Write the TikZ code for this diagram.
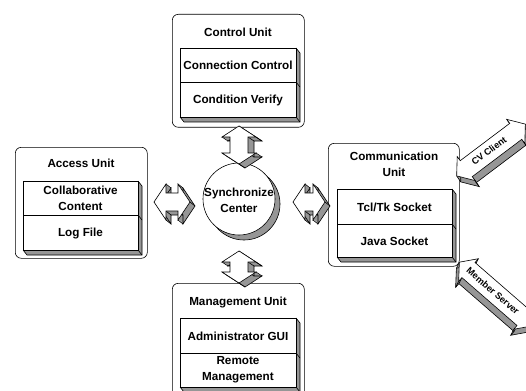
\documentclass[tikz,border=0pt]{standalone}
\usepackage{fontspec}
\setmainfont{Liberation Sans}
\definecolor{shadecol}{RGB}{150,150,150}
\tikzset{
  unitbox/.style={draw=black, fill=white, rounded corners=6pt, line width=0.6pt, inner sep=0pt},
  lbl/.style={font=\bfseries\fontsize{11.7}{16}\selectfont, align=center, inner sep=0pt},
  albl/.style={font=\bfseries\fontsize{9.2}{10}\selectfont, inner sep=0pt},
  thin line/.style={line width=0.6pt},
}
\newcommand\stackbox[5]{%
  \fill[shadecol] (#3,#2) -- (#3+4,#2+5) -- (#3+4,#4+5) -- (#1+4,#4+5) -- (#1,#4) -- (#3,#4) -- cycle;
  \draw[thin line] (#3,#2) -- (#3+4,#2+5) -- (#3+4,#4+5) -- (#1+4,#4+5) -- (#1,#4);
  \draw[thin line] (#3,#4) -- (#3+4,#4+5);
  \draw[thin line] (#3,#5) -- (#3+4,#5+5);
  \draw[thin line, fill=white] (#1,#2) rectangle (#3,#4);
  \draw[thin line] (#1,#5) -- (#3,#5);
}
% cx, cy, angle, L, head half-width, shaft half-width, head length, ex, ey
\newcommand\blockarrow[9]{%
  \pgfmathsetmacro\aA{#4/2}\pgfmathsetmacro\aB{#4/2-#7}%
  \tikzset{arrowpath/.style={insert path={(-\aA,0) -- (-\aB,-#5) -- (-\aB,-#6) -- (\aB,-#6) -- (\aB,-#5) -- (\aA,0) -- (\aB,#5) -- (\aB,#6) -- (-\aB,#6) -- (-\aB,#5) -- cycle}}}%
  \foreach \t in {0,0.1,...,1.01} {\fill[shadecol, shift={(#1+\t*#8,#2+\t*#9)}, rotate=#3, arrowpath];}
  \draw[thin line, shift={(#1+#8,#2+#9)}, rotate=#3, arrowpath];
  \foreach \u/\v in {-\aA/0, -\aB/-#5, -\aB/-#6, \aB/-#6, \aB/-#5, \aA/0, \aB/#5, \aB/#6, -\aB/#6, -\aB/#5}
    {\draw[thin line] ([shift={(#1,#2)}, rotate=#3]\u,\v) -- ([shift={(#1+#8,#2+#9)}, rotate=#3]\u,\v);}
  \fill[white, shift={(#1,#2)}, rotate=#3, arrowpath];
  \draw[thin line, shift={(#1,#2)}, rotate=#3, arrowpath];
}
\begin{document}
\begin{tikzpicture}[x=1pt, y=-1pt]
\useasboundingbox (0,0) rectangle (526,390);
\clip (0,0) rectangle (526,390);

% Control Unit
\node[unitbox, minimum width=132pt, minimum height=113pt, anchor=north west] (ctrl) at (172,14) {};
\node[lbl] (ctrlt) at (238,32) {Control Unit};
\stackbox{180}{48}{296}{117}{82}
\node[lbl] (cc) at (238,65) {Connection Control};
\node[lbl] (cv) at (238,100) {Condition Verify};

% Access Unit
\node[unitbox, minimum width=132pt, minimum height=111pt, anchor=north west] (acc) at (15,147) {};
\node[lbl] (acct) at (81,163) {Access Unit};
\stackbox{23}{181}{138}{250}{215}
\node[lbl] (colc) at (80.5,198.5) {Collaborative\\Content};
\node[lbl] (logf) at (80.5,233) {Log File};

% Communication Unit
\node[unitbox, minimum width=131pt, minimum height=123pt, anchor=north west] (comm) at (328,143) {};
\node[lbl] (commt) at (394,164) {Communication\\Unit};
\stackbox{337}{189}{452}{257}{224}
\node[lbl] (tcl) at (394.5,207) {Tcl/Tk Socket};
\node[lbl] (java) at (394.5,241) {Java Socket};

% Management Unit
\node[unitbox, minimum width=132pt, minimum height=120pt, anchor=north west] (mgmt) at (172,283) {};
\node[lbl] (mgmtt) at (238,302) {Management Unit};
\stackbox{180}{318}{296}{387}{353}
\node[lbl] (admin) at (238,336) {Administrator GUI};
\node[lbl] (remote) at (238,370) {Remote\\Management};

% Synchronize Center
\node[circle, draw, thin line, fill=shadecol, minimum size=72pt, inner sep=0pt] (syncsh) at (244,204) {};
\node[circle, draw, thin line, fill=white, minimum size=72pt, inner sep=0pt] (sync) at (239,199) {};
\node[lbl] (synct) at (239,200) {Synchronize\\Center};

% block arrows
\blockarrow{239}{145}{90}{38}{17}{9}{11}{6}{4}
\blockarrow{239}{267}{90}{32}{17}{9}{11}{6}{4}
\blockarrow{172}{202}{0}{36}{18}{9}{12}{5}{4}
\blockarrow{309}{202}{0}{32}{18}{9}{12}{5}{4}
\blockarrow{491}{150}{37}{86}{15}{10}{12}{4}{6}
\blockarrow{496}{294}{-41}{97}{15}{10}{12}{-3}{6}
\node[albl, rotate=37] (cvc) at (489,151) {CV Client};
\node[albl, rotate=-41] (mems) at (493,291) {Member Server};
\end{tikzpicture}
\end{document}
